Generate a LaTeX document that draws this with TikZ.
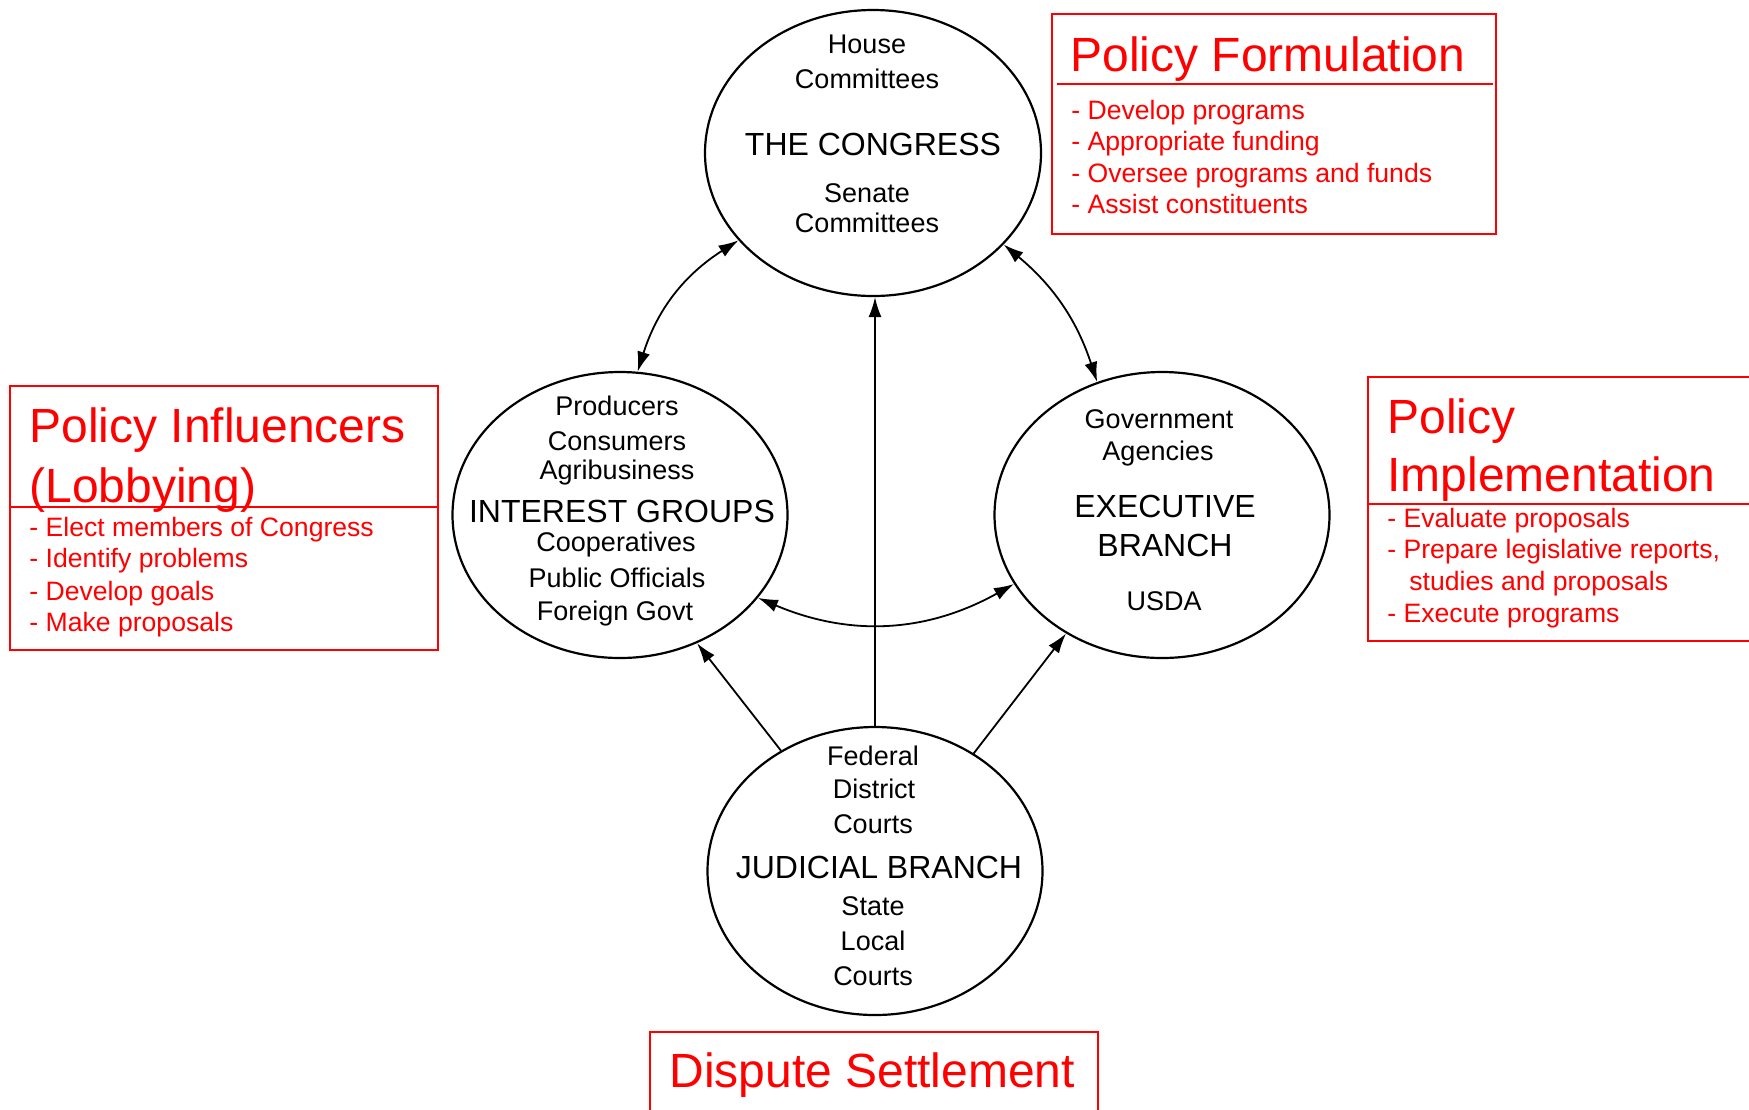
\documentclass[tikz,border=0pt]{standalone}
\usepackage{fontspec}
\setmainfont{Liberation Sans}
\usetikzlibrary{shapes.geometric,arrows.meta}
\definecolor{pred}{RGB}{255,0,0}
\begin{document}
\begin{tikzpicture}[x=0.5pt,y=-0.5pt,
 ell/.style={ellipse,draw,line width=1.1pt,inner sep=0pt},
 small/.style={inner sep=0pt,anchor=base,font=\fontsize{13.5}{16}\selectfont},
 big/.style={inner sep=0pt,anchor=base,font=\fontsize{16}{19}\selectfont},
 redbox/.style={draw=pred,line width=1pt},
 ttl/.style={inner sep=0pt,anchor=base west,text=pred,font=\fontsize{24}{28}\selectfont},
 itm/.style={inner sep=0pt,anchor=base west,text=pred,font=\fontsize{13.3}{16}\selectfont},
 conn/.style={line width=0.9pt,-{Latex[length=10pt,width=6.5pt]}},
 bconn/.style={line width=0.9pt,{Latex[length=10pt,width=6.5pt]}-{Latex[length=10pt,width=6.5pt]}}]
\useasboundingbox[fill=white] (0,0) rectangle (1749,1109);

% ellipses
\node[ell,minimum width=168pt,minimum height=143pt] (cong) at (873,153) {};
\node[ell,minimum width=167.5pt,minimum height=143pt] (int) at (620,515) {};
\node[ell,minimum width=167.5pt,minimum height=143pt] (exe) at (1162,515) {};
\node[ell,minimum width=167.5pt,minimum height=144pt] (jud) at (875,871) {};

% congress text
\node[small] (c1) at (867,53) {House};
\node[small] (c2) at (867,88) {Committees};
\node[big] (c3) at (873,155) {THE CONGRESS};
\node[small] (c4) at (867,202) {Senate};
\node[small] (c5) at (867,232) {Committees};

% interest text
\node[small] (i1) at (617,415) {Producers};
\node[small] (i2) at (617,450) {Consumers};
\node[small] (i3) at (617,479) {Agribusiness};
\node[big] (i4) at (622,522) {INTEREST GROUPS};
\node[small] (i5) at (616,551) {Cooperatives};
\node[small] (i6) at (617,587) {Public Officials};
\node[small] (i7) at (615,620) {Foreign Govt};

% executive text
\node[small] (e1) at (1159,428) {Government};
\node[small] (e2) at (1158,460) {Agencies};
\node[big] (e3) at (1165,517) {EXECUTIVE};
\node[big] (e4) at (1165,556) {BRANCH};
\node[small] (e5) at (1164,610) {USDA};

% judicial text
\node[small] (j1) at (873,765) {Federal};
\node[small] (j2) at (874,798) {District};
\node[small] (j3) at (873,833) {Courts};
\node[big] (j4) at (879,878) {JUDICIAL BRANCH};
\node[small] (j5) at (873,915) {State};
\node[small] (j6) at (873,950) {Local};
\node[small] (j7) at (873,985) {Courts};

% connectors
\draw[bconn] (cong.213) to[bend right=20] (int.83);
\draw[bconn] (cong.325) to[bend left=16] (exe.116);
\draw[bconn] (int.329) to[bend right=26] (exe.205);
\draw[conn] (jud.north) -- (jud.north |- cong.south);
\draw[conn] (jud.128) -- (int.301);
\draw[conn] (jud.50) -- (exe.231);

% Policy Formulation
\draw[redbox] (1052,14) rectangle (1496,234);
\draw[pred,line width=1pt] (1057,84) -- (1493,84);
\node[ttl] (pf) at (1070,71) {Policy Formulation};
\node[itm] (pf1) at (1071,119) {- Develop programs};
\node[itm] (pf2) at (1071,150) {- Appropriate funding};
\node[itm] (pf3) at (1071,182) {- Oversee programs and funds};
\node[itm] (pf4) at (1071,213) {- Assist constituents};

% Policy Influencers
\draw[redbox] (10,386) rectangle (438,650);
\draw[pred,line width=1pt] (10,507) -- (438,507);
\node[ttl] (pi) at (29,442) {Policy Influencers};
\node[ttl] (pi0) at (29,502) {(Lobbying)};
\node[itm] (pi1) at (29,536) {- Elect members of Congress};
\node[itm] (pi2) at (29,567) {- Identify problems};
\node[itm] (pi3) at (29,600) {- Develop goals};
\node[itm] (pi4) at (29,631) {- Make proposals};

% Policy Implementation
\draw[redbox] (1368,377) rectangle (1770,641);
\draw[pred,line width=1pt] (1368,504) -- (1770,504);
\node[ttl] (pm) at (1387,433) {Policy};
\node[ttl] (pm0) at (1387,491) {Implementation};
\node[itm] (pm1) at (1387,527) {- Evaluate proposals};
\node[itm] (pm2) at (1387,558) {- Prepare legislative reports,};
\node[itm] (pm3) at (1409,590) {studies and proposals};
\node[itm] (pm4) at (1387,622) {- Execute programs};

% Dispute Settlement
\draw[redbox] (650,1032) rectangle (1098,1120);
\node[ttl] (ds) at (669,1087) {Dispute Settlement};
\end{tikzpicture}
\end{document}
